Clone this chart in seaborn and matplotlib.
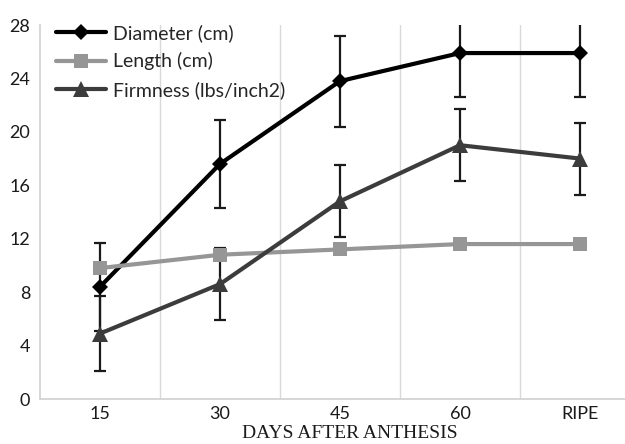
import numpy as np
import pandas as pd
import matplotlib
matplotlib.use("Agg")
import matplotlib.pyplot as plt
import seaborn as sns

# values
days = ["15", "30", "45", "60", "RIPE"]
diameter = [8.4, 17.6, 23.8, 25.9, 25.9]
diameter_err = [3.3, 3.3, 3.4, 3.3, 3.3]
length = [9.8, 10.8, 11.2, 11.6, 11.6]
firmness = [4.9, 8.6, 14.8, 19.0, 18.0]
firmness_err = [2.8, 2.7, 2.7, 2.7, 2.7]

series = ["Diameter (cm)", "Length (cm)", "Firmness (lbs/inch2)"]
colors = ["#000000", "#969696", "#3c3c3c"]
markers = ["D", "s", "^"]
msizes = [8, 10, 11]

df = pd.DataFrame({
    "day": days * 3,
    "value": diameter + length + firmness,
    "series": np.repeat(series, len(days)),
})

sns.set_style("white")
plt.rcParams["font.family"] = ["Lato", "DejaVu Sans"]

fig = plt.figure(figsize=(6.25, 4.44), dpi=100)
ax = fig.add_axes([40 / 625, 1 - 399 / 444, 585 / 625, 374 / 444])

# error bars first, lines on top
for vals, errs in [(diameter, diameter_err), (firmness, firmness_err)]:
    ax.errorbar(days, vals, yerr=errs, fmt="none", ecolor="#1a1a1a",
                elinewidth=1.6, capsize=4.5, capthick=1.6, zorder=2)

for name, col, mk, ms in zip(series, colors, markers, msizes):
    sns.lineplot(data=df[df["series"] == name], x="day", y="value", ax=ax,
                 color=col, marker=mk, markersize=ms, markeredgewidth=0,
                 linewidth=3, label=name, zorder=3)

ax.set_ylim(0, 28)
ax.set_yticks(range(0, 29, 4))
ax.set_xlim(-0.5, 4.375)

# vertical grid lines between categories
for b in [0.5, 1.5, 2.5, 3.5]:
    ax.axvline(b, color="#d9d9d9", linewidth=1, zorder=0)

for s in ["top", "right"]:
    ax.spines[s].set_visible(False)
for s in ["left", "bottom"]:
    ax.spines[s].set_color("#d0d0d0")
    ax.spines[s].set_linewidth(1.2)

ax.tick_params(axis="both", length=0, labelsize=13, colors="#1a1a1a")
ax.tick_params(axis="x", pad=5)
ax.tick_params(axis="y", pad=7)
ax.set_ylabel("")
ax.set_xlabel("DAYS AFTER ANTHESIS", family="Liberation Serif", fontsize=14,
              color="#1a1a1a")
ax.xaxis.set_label_coords((350 - 40) / 585, -0.07)

leg = ax.legend(loc="upper left", bbox_to_anchor=(48 / 625, 1 - 16 / 444),
                bbox_transform=fig.transFigure, frameon=False, fontsize=14,
                handlelength=2.6, handletextpad=0.35, labelspacing=0.55,
                borderaxespad=0)

fig.savefig("out.png", dpi=100)
